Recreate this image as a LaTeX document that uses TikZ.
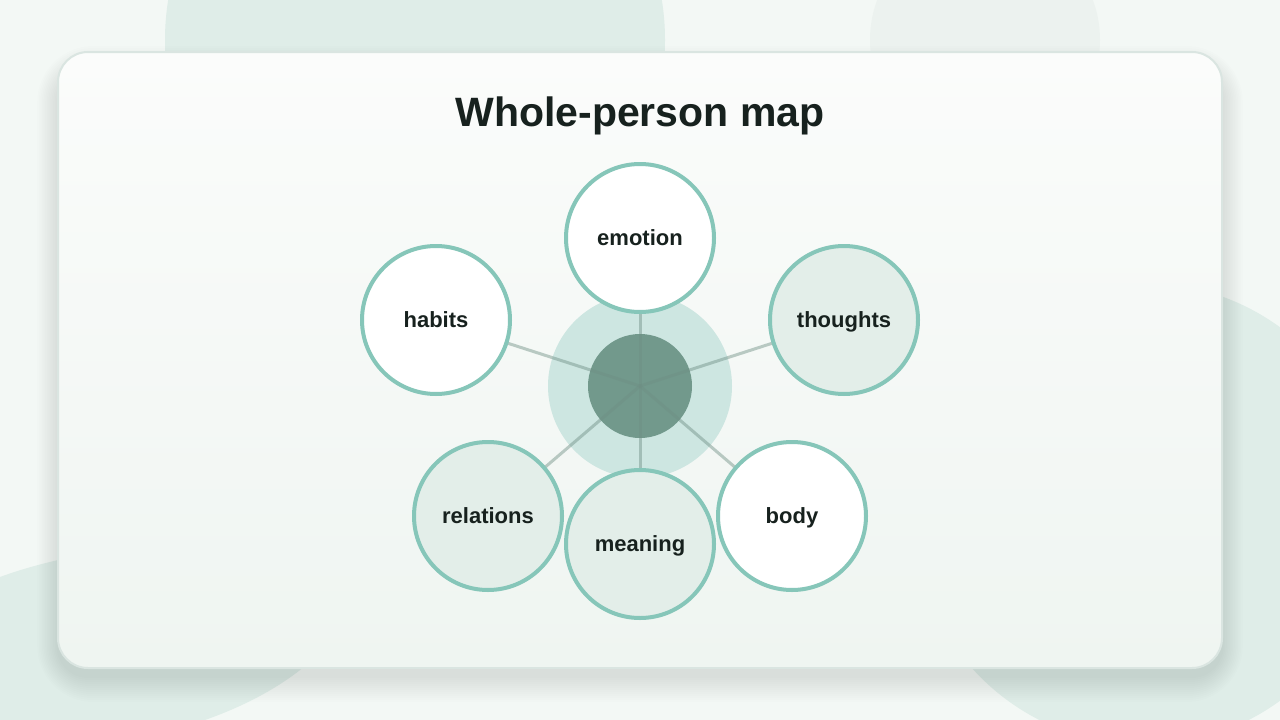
\documentclass[tikz,border=0pt]{standalone}
\usepackage{fontspec}
\setmainfont{Liberation Sans}
\definecolor{bgc}{HTML}{F3F8F5}
\definecolor{blobA}{HTML}{DFEDE8}
\definecolor{blobB}{HTML}{ECF2EF}
\definecolor{cardtop}{HTML}{FBFCFB}
\definecolor{cardbot}{HTML}{EFF5F1}
\definecolor{cardedge}{HTML}{DAE5E1}
\definecolor{ringc}{HTML}{86C6B9}
\definecolor{softfill}{HTML}{E3EEE9}
\definecolor{haloc}{HTML}{CDE6E1}
\definecolor{corec}{HTML}{72998C}
\definecolor{spokec}{HTML}{6E8F84}
\definecolor{inkc}{HTML}{17211E}
\pgfdeclarelayer{bglayer}
\pgfdeclarelayer{spokelayer}
\pgfsetlayers{bglayer,spokelayer,main}
\tikzset{
  sat/.style={circle, draw=ringc, line width=4pt, minimum size=148pt, inner sep=0pt,
    text=inkc, font=\fontsize{22}{26}\selectfont\bfseries,
    text height=20pt, text depth=4.6pt},
  spoke/.style={draw=spokec, line width=3pt, opacity=0.45},
}
\begin{document}
\begin{tikzpicture}[x=1pt,y=-1pt]
\useasboundingbox (0,0) rectangle (1280,720);
\begin{pgfonlayer}{bglayer}
% background
\fill[bgc] (0,0) rectangle (1280,720);
\fill[blobA] (415,40) circle[radius=250pt];
\fill[blobB] (985,40) circle[radius=115pt];
\fill[blobA] (1144,514) circle[radius=231pt];
\fill[blobA] (0,577) -- (0,720) -- (205,720) .. controls (290,690) and (350,640) .. (360,580)
  .. controls (300,520) and (100,540) .. (0,577) -- cycle;
% card shadow
\foreach \s in {2,4,...,26}{
  \fill[black, opacity=0.008, rounded corners=30+\s] (58-\s*0.8,52-\s+20) rectangle (1222+\s*0.8,668+\s+8);
}
% card
\shade[rounded corners=30, top color=cardtop, bottom color=cardbot] (58,52) rectangle (1222,668);
\draw[cardedge, line width=2pt, rounded corners=30] (58,52) rectangle (1222,668);
% hub
\fill[haloc] (640,386) circle[radius=92pt];
\node[circle, fill=corec, minimum size=104pt, inner sep=0pt] (hub) at (640,386) {};
\end{pgfonlayer}

\node[text=inkc, font=\fontsize{41}{48}\selectfont\bfseries, anchor=base, inner sep=0pt] (title) at (640,126) {Whole-person map};

\node[sat, fill=white]    (emotion)   at (640,238) {emotion};
\node[sat, fill=softfill] (thoughts)  at (844,320) {thoughts};
\node[sat, fill=white]    (body)      at (792,516) {body};
\node[sat, fill=softfill] (meaning)   at (640,544) {meaning};
\node[sat, fill=softfill] (relations) at (488,516) {relations};
\node[sat, fill=white]    (habits)    at (436,320) {habits};

\begin{pgfonlayer}{spokelayer}
\foreach \n in {emotion,thoughts,body,meaning,relations,habits}{
  \draw[spoke] (hub.center) -- (\n.center);
}
\end{pgfonlayer}
\end{tikzpicture}
\end{document}
